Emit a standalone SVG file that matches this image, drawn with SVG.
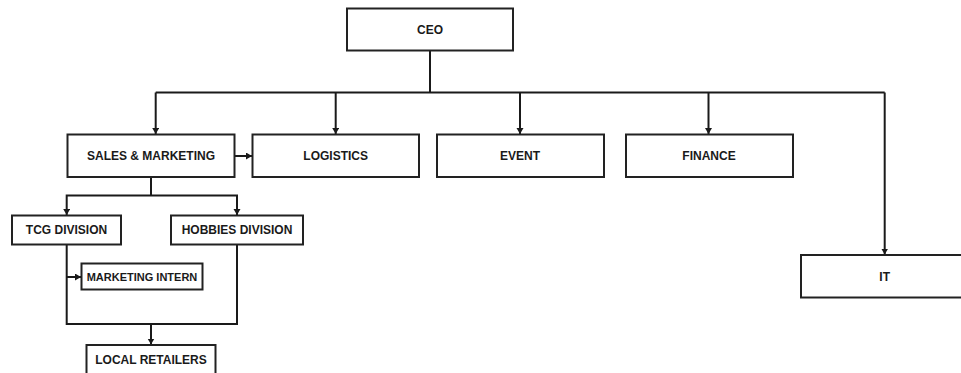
<svg xmlns="http://www.w3.org/2000/svg" width="961" height="373" viewBox="0 0 961 373">
<style>
.box{fill:#fff;stroke:#222;stroke-width:2}
.lbl{font-family:"Liberation Sans",Arial,sans-serif;font-weight:bold;font-size:12px;fill:#1a1a1a;text-anchor:middle}
.sm{font-size:11px}
.con{fill:none;stroke:#1a1a1a;stroke-width:2}
</style>
<defs>
<marker id="arr" markerUnits="userSpaceOnUse" markerWidth="8" markerHeight="8" refX="6" refY="3.5" orient="auto">
<path d="M0,0 L6,3.5 L0,7 z" fill="#1a1a1a"/>
</marker>
</defs>
<rect width="961" height="373" fill="#fff"/>
<g id="connectors">
<path class="con" d="M430 50.5 V92.5"/>
<path class="con" d="M155.7 92.5 H884.7"/>
<path class="con" marker-end="url(#arr)" d="M155.7 92.5 V134"/>
<path class="con" marker-end="url(#arr)" d="M335.7 92.5 V134"/>
<path class="con" marker-end="url(#arr)" d="M520 92.5 V134"/>
<path class="con" marker-end="url(#arr)" d="M708.5 92.5 V134"/>
<path class="con" marker-end="url(#arr)" d="M884.7 92.5 V254.5"/>
<path class="con" marker-end="url(#arr)" d="M234.5 156 H252"/>
<path class="con" d="M151 177 V195.5"/>
<path class="con" marker-end="url(#arr)" d="M151 195.5 H66.7 V215"/>
<path class="con" marker-end="url(#arr)" d="M151 195.5 H237 V215"/>
<path class="con" d="M66.7 244.5 V324 H237 V244.5"/>
<path class="con" marker-end="url(#arr)" d="M66.7 277 H81"/>
<path class="con" marker-end="url(#arr)" d="M151 324 V344.5"/>
</g>
<g id="ceo"><rect class="box" x="347" y="8.5" width="166" height="42"/><text class="lbl" x="430" y="34">CEO</text></g>
<g id="sales"><rect class="box" x="67.5" y="134.5" width="167" height="42.5"/><text class="lbl" x="151" y="160">SALES &amp; MARKETING</text></g>
<g id="logistics"><rect class="box" x="252.5" y="134.5" width="166.5" height="42.5"/><text class="lbl" x="335.7" y="160">LOGISTICS</text></g>
<g id="event"><rect class="box" x="437" y="134.5" width="167" height="42.5"/><text class="lbl" x="520" y="160">EVENT</text></g>
<g id="finance"><rect class="box" x="626" y="134.5" width="167" height="42.5"/><text class="lbl" x="709" y="160">FINANCE</text></g>
<g id="it"><rect class="box" x="801" y="255" width="167" height="42.5"/><text class="lbl" x="884.7" y="280.5">IT</text></g>
<g id="tcg"><rect class="box" x="12" y="215.5" width="109" height="29"/><text class="lbl" x="66.5" y="234.3">TCG DIVISION</text></g>
<g id="hobbies"><rect class="box" x="171" y="215.5" width="132" height="29"/><text class="lbl" x="237" y="234.3">HOBBIES DIVISION</text></g>
<g id="intern"><rect class="box" x="81.5" y="263.5" width="121" height="26"/><text class="lbl sm" x="142" y="280.5">MARKETING INTERN</text></g>
<g id="retailers"><rect class="box" x="86.5" y="345" width="129" height="29"/><text class="lbl" x="151" y="364">LOCAL RETAILERS</text></g>
</svg>
